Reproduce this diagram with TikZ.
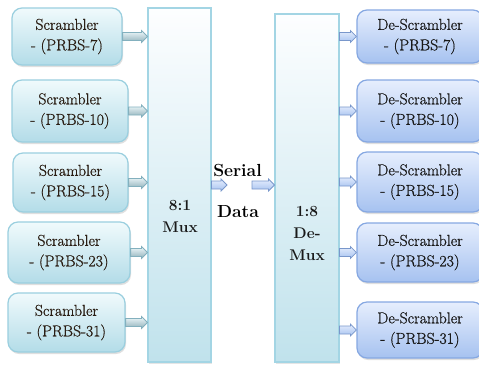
\documentclass[tikz,border=0pt]{standalone}
\usepackage{fontspec}
\newfontfamily\boxface[FakeBold=0.8]{Latin Modern Roman}
\usetikzlibrary{shadows,calc}

\definecolor{scrtop}{HTML}{F0FAFC}
\definecolor{scrbot}{HTML}{B3DCE8}
\definecolor{scredge}{HTML}{9ACFDF}
\definecolor{destop}{HTML}{E6EEFD}
\definecolor{desbot}{HTML}{A6C2F0}
\definecolor{desedge}{HTML}{86A8E2}
\definecolor{muxtop}{HTML}{FDFEFF}
\definecolor{muxbot}{HTML}{C0E2EC}
\definecolor{muxedge}{HTML}{A3D5E4}
\definecolor{txtdark}{HTML}{2A1E14}

\tikzset{
  boxtext/.style={align=center, font=\boxface\fontsize{15.8}{20.5}\selectfont, text=txtdark},
  scrbox/.style={boxtext, rounded corners=10pt, draw=scredge, line width=1.2pt,
    top color=scrtop, bottom color=scrbot, inner sep=0pt,
    drop shadow={opacity=0.25, shadow xshift=1pt, shadow yshift=-2pt}},
  desbox/.style={boxtext, rounded corners=10pt, draw=desedge, line width=1.2pt,
    top color=destop, bottom color=desbot, inner sep=0pt, text=black!90,
    drop shadow={opacity=0.25, shadow xshift=1pt, shadow yshift=-2pt}},
  muxbox/.style={draw=muxedge, line width=1.1pt, top color=muxtop, bottom color=muxbot,
    inner sep=0pt, drop shadow={opacity=0.2, shadow xshift=1pt, shadow yshift=-2pt}},
  muxlabel/.style={align=center, font=\rmfamily\bfseries\fontsize{15.5}{22}\selectfont, text=black!90},
  seriallabel/.style={font=\rmfamily\bfseries\fontsize{17.5}{22}\selectfont, text=black},
  tealarrow/.style={draw=scredge!85!black, line width=0.8pt, top color=scrtop, bottom color=scrbot!80!black},
  bluearrow/.style={draw=desedge!90!black, line width=0.8pt, top color=destop, bottom color=desbot},
}

% block arrow from point #2 to point #3, horizontal, drawn with style #1
\newcommand\blockarrow[3]{%
  \path let \p1=(#2), \p2=(#3) in
    [#1] (\x1,\y1+4pt) -- (\x2-6pt,\y1+4pt) -- (\x2-6pt,\y1+6pt) -- (\x2,\y1)
    -- (\x2-6pt,\y1-6pt) -- (\x2-6pt,\y1-4pt) -- (\x1,\y1-4pt) -- cycle;}

\begin{document}
\begin{tikzpicture}[x=1pt,y=-1pt]
  \useasboundingbox (0,0) rectangle (479,365);
  \clip (0,0) rectangle (479,365);
  \fill[white] (0,0) rectangle (479,365);

  % multiplexer and demultiplexer columns
  \node[muxbox, minimum width=63pt, minimum height=354pt] (mux) at (179.5,185) {};
  \node[muxbox, minimum width=64pt, minimum height=348pt] (demux) at (307,188) {};
  \node[muxlabel] (muxtxt) at (180,216) {8:1\\Mux};
  \node[muxlabel] (demuxtxt) at (307,233) {1:8\\De-\\Mux};

  % scramblers
  \node[scrbox, minimum width=110pt, minimum height=57pt] (L1) at (67,36.5) {Scrambler\\- (PRBS-7)};
  \node[scrbox, minimum width=116pt, minimum height=62pt] (L2) at (70,111) {Scrambler\\- (PRBS-10)};
  \node[scrbox, minimum width=115pt, minimum height=59pt] (L3) at (70.5,182.5) {Scrambler\\- (PRBS-15)};
  \node[scrbox, minimum width=122pt, minimum height=61pt] (L4) at (69,252.5) {Scrambler\\- (PRBS-23)};
  \node[scrbox, minimum width=117pt, minimum height=59pt] (L5) at (66.5,322.5) {Scrambler\\- (PRBS-31)};

  % de-scramblers
  \node[desbox, minimum width=126pt, minimum height=53pt] (R1) at (420,36.5) {De-Scrambler\\- (PRBS-7)};
  \node[desbox, minimum width=126pt, minimum height=62pt] (R2) at (420,111) {De-Scrambler\\- (PRBS-10)};
  \node[desbox, minimum width=126pt, minimum height=60pt] (R3) at (420,182) {De-Scrambler\\- (PRBS-15)};
  \node[desbox, minimum width=126pt, minimum height=59pt] (R4) at (420,252.5) {De-Scrambler\\- (PRBS-23)};
  \node[desbox, minimum width=126pt, minimum height=56pt] (R5) at (420,330) {De-Scrambler\\- (PRBS-31)};

  % serial link labels
  \node[seriallabel] (serial) at (237.5,170) {Serial};
  \node[seriallabel] (data) at (238,212) {Data};
  \coordinate (s1) at (227,185);
  \coordinate (s2) at (252,185);

  % scramblers into the mux
  \foreach \nm in {L1,L2,L3,L4,L5}
    \blockarrow{tealarrow}{\nm.east}{mux.west |- \nm.east};
  % demux out to the de-scramblers
  \foreach \nm in {R1,R2,R3,R4,R5}
    \blockarrow{bluearrow}{demux.east |- \nm.west}{\nm.west};
  % serial link
  \blockarrow{bluearrow}{mux.east |- s1}{s1};
  \blockarrow{bluearrow}{s2}{demux.west |- s2};
\end{tikzpicture}
\end{document}
